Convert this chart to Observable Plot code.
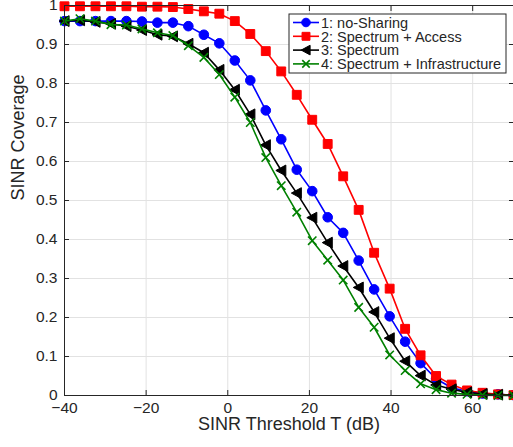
<!DOCTYPE html>
<html>
<head>
<meta charset="utf-8">
<script src="https://cdn.jsdelivr.net/npm/d3@7"></script>
<script src="https://cdn.jsdelivr.net/npm/@observablehq/plot@0.6"></script>
<style>
  body { margin: 0; background: #fff; }
  #chart svg { display: block; }
</style>
</head>
<body>
<div id="chart"></div>
<script>
// SINR threshold T (dB), 30 evaluation points
const threshold = [-40, -36.21, -32.41, -28.62, -24.83, -21.03, -17.24, -13.45, -9.66, -5.86,
  -2.07, 1.72, 5.52, 9.31, 13.10, 16.90, 20.69, 24.48, 28.28, 32.07,
  35.86, 39.66, 43.45, 47.24, 51.03, 54.83, 58.62, 62.41, 66.21, 70];

// SINR coverage probability for each sharing scenario
const noSharing = [0.960, 0.960, 0.960, 0.960, 0.960, 0.959, 0.956, 0.956, 0.947, 0.925,
  0.903, 0.859, 0.808, 0.731, 0.657, 0.579, 0.524, 0.457, 0.417, 0.346,
  0.272, 0.203, 0.138, 0.083, 0.043, 0.020, 0.011, 0.005, 0.003, 0.001];
const spectrumAccess = [0.998, 0.998, 0.998, 0.998, 0.998, 0.997, 0.997, 0.996, 0.991, 0.985,
  0.979, 0.960, 0.927, 0.883, 0.831, 0.771, 0.707, 0.645, 0.562, 0.476,
  0.366, 0.274, 0.171, 0.103, 0.050, 0.028, 0.013, 0.007, 0.003, 0.001];
const spectrum = [0.960, 0.962, 0.958, 0.953, 0.947, 0.937, 0.925, 0.921, 0.902, 0.879,
  0.835, 0.784, 0.721, 0.642, 0.577, 0.519, 0.456, 0.392, 0.332, 0.277,
  0.214, 0.147, 0.088, 0.051, 0.027, 0.016, 0.008, 0.004, 0.002, 0.001];
const spectrumInfra = [0.960, 0.966, 0.960, 0.951, 0.950, 0.940, 0.930, 0.923, 0.897, 0.867,
  0.823, 0.765, 0.700, 0.610, 0.538, 0.470, 0.397, 0.347, 0.296, 0.226,
  0.175, 0.104, 0.064, 0.030, 0.015, 0.006, 0.003, 0.001, 0.000, 0.000];

const seriesNames = ["1: no-Sharing", "2: Spectrum + Access", "3: Spectrum", "4: Spectrum + Infrastructure"];
const seriesColors = ["#0000ff", "#ff0000", "#000000", "#008000"];

const xTicks = [-40, -20, 0, 20, 40, 60];
const yTicks = [0, 0.1, 0.2, 0.3, 0.4, 0.5, 0.6, 0.7, 0.8, 0.9, 1];

// left-pointing triangle marker
const triangleLeft = {
  draw(context, size) {
    const r = Math.sqrt(size / Math.PI);
    context.moveTo(-r, 0);
    context.lineTo(r * 0.85, -r);
    context.lineTo(r * 0.85, r);
    context.closePath();
  }
};

const seriesValues = [noSharing, spectrumAccess, spectrum, spectrumInfra];
const seriesStyle = [
  {symbol: "circle", r: 4.8, fill: true},
  {symbol: "square", r: 5.0, fill: true},
  {symbol: triangleLeft, r: 5.4, fill: true},
  {symbol: "times", r: 3.9, fill: false}
];

const rows = seriesValues.map((vals, i) =>
  threshold.map((t, j) => ({series: seriesNames[i], t, cov: vals[j]})));

const ink = "#262626";

const seriesMarks = rows.flatMap((data, i) => {
  const c = seriesColors[i];
  const s = seriesStyle[i];
  return [
    Plot.line(data, {x: "t", y: "cov", stroke: c, strokeWidth: 1.6}),
    Plot.dot(data, {
      x: "t", y: "cov", symbol: s.symbol, r: s.r,
      fill: s.fill ? c : "none", stroke: c, strokeWidth: s.fill ? 1 : 1.6
    })
  ];
});

const chart = Plot.plot({
  width: 513,
  height: 447,
  marginLeft: 64,
  marginRight: 0,
  marginTop: 5,
  marginBottom: 52,
  style: {fontFamily: "'Liberation Sans', Arial, sans-serif", fontSize: "15px", color: ink, background: "#fff"},
  x: {domain: [-40, 70]},
  y: {domain: [0, 1]},
  marks: [
    Plot.gridX(xTicks, {stroke: "#e2e2e2", strokeOpacity: 1}),
    Plot.gridY(yTicks, {stroke: "#e2e2e2", strokeOpacity: 1}),
    ...seriesMarks,
    Plot.frame({stroke: ink}),
    Plot.axisX(xTicks, {anchor: "bottom", tickSize: -5, tickPadding: 11, label: null, fontSize: 15.5}),
    Plot.axisX(xTicks, {anchor: "top", tickSize: -5, tickFormat: () => "", label: null}),
    Plot.axisY(yTicks, {anchor: "left", tickSize: -5, tickPadding: 12, tickFormat: d => String(d), label: null, fontSize: 15.5}),
    Plot.axisY(yTicks, {anchor: "right", tickSize: -5, tickFormat: () => "", label: null}),
    Plot.text(["SINR Threshold T (dB)"], {frameAnchor: "bottom", dy: 34.5, fontSize: 18, fill: ink}),
    Plot.text(["SINR Coverage"], {frameAnchor: "left", dx: -46, rotate: -90, fontSize: 18, fill: ink})
  ]
});

document.getElementById("chart").appendChild(chart);

// legend box in the upper right of the axes
const svg = d3.select(chart);
const legend = svg.append("g").attr("transform", "translate(289,14)").attr("text-anchor", "start");
legend.append("rect")
  .attr("width", 217).attr("height", 59)
  .attr("fill", "#fff").attr("stroke", ink).attr("stroke-width", 1);
seriesNames.forEach((name, i) => {
  const y = 8.5 + i * 13.8;
  const c = seriesColors[i];
  const s = seriesStyle[i];
  const g = legend.append("g");
  g.append("line").attr("x1", 4).attr("x2", 30).attr("y1", y).attr("y2", y)
    .attr("stroke", c).attr("stroke-width", 1.6);
  const symType = typeof s.symbol === "string"
    ? {circle: d3.symbolCircle, square: d3.symbolSquare, times: d3.symbolTimes}[s.symbol]
    : s.symbol;
  g.append("path")
    .attr("transform", `translate(17,${y})`)
    .attr("d", d3.symbol(symType, Math.PI * s.r * s.r * 0.8)())
    .attr("fill", s.fill ? c : "none").attr("stroke", c).attr("stroke-width", s.fill ? 1 : 1.6);
  g.append("text").attr("x", 32).attr("y", y).attr("dy", "0.36em")
    .attr("text-anchor", "start")
    .attr("font-size", 14.5).attr("fill", ink)
    .text(name);
});
</script>
</body>
</html>
